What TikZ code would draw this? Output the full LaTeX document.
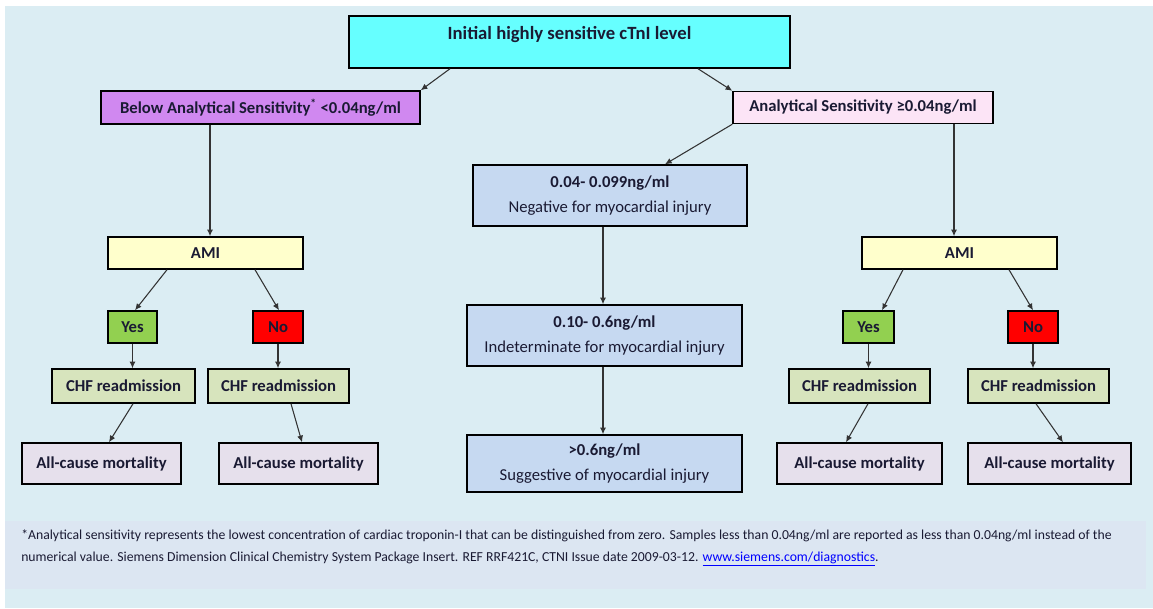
\documentclass[tikz,border=0pt]{standalone}
\usepackage{fontspec}
\setmainfont{Carlito}
\usetikzlibrary{arrows.meta,calc}
\definecolor{bgblue}{HTML}{DBEDF3}
\definecolor{footbg}{HTML}{DCE6F2}
\definecolor{cyanbox}{HTML}{66FFFF}
\definecolor{purplebox}{HTML}{D088F0}
\definecolor{pinkbox}{HTML}{FCE4F6}
\definecolor{centerbox}{HTML}{C6D9F1}
\definecolor{amibox}{HTML}{FFFFCC}
\definecolor{yesbox}{HTML}{92D050}
\definecolor{nobox}{HTML}{FF0000}
\definecolor{chfbox}{HTML}{D7E4BD}
\definecolor{allbox}{HTML}{E6E0EC}
\definecolor{linkblue}{HTML}{0000FF}
\definecolor{txt}{HTML}{1A1A33}
\tikzset{
  wh/.style 2 args={minimum width=#1*0.75pt, minimum height=#2*0.75pt},
  box/.style={draw=black, line width=1.1pt, inner sep=0pt, text=txt,
    font=\bfseries\fontsize{12.5}{15}\selectfont, align=center},
  conn/.style={draw=black!80, line width=0.8pt, -{Latex[length=5pt,width=4.5pt]}},
  foot/.style={anchor=base west, inner sep=0pt, text=txt, font=\fontsize{10.3}{12}\selectfont}
}
\begin{document}
\begin{tikzpicture}[x=0.75pt,y=-0.75pt]
\useasboundingbox (0,0) rectangle (1153,608);
\fill[white] (0,0) rectangle (1153,608);
\fill[bgblue] (5,6) rectangle (1153,608);
\fill[footbg] (5,521) rectangle (1146,589);

% top
\node[box, fill=cyanbox, wh={441}{52}, font=\bfseries\fontsize{14}{16}\selectfont] (init) at (569.5,42) {\raisebox{2pt}[0pt][0pt]{Initial highly sensitive cTnI level}};
\node[box, fill=purplebox, wh={319}{33}] (below) at (260.5,107.5) {Below Analytical Sensitivity\textsuperscript{*} <0.04ng/ml};
\node[box, fill=pinkbox, wh={260}{32}] (anal) at (863,107.5) {Analytical Sensitivity ≥0.04ng/ml};

% center column
\node[box, fill=centerbox, wh={274}{61}] (c1) at (610,195.5) {0.04- 0.099ng/ml\\[4pt]{\mdseries Negative for myocardial injury}};
\node[box, fill=centerbox, wh={275}{61}] (c2) at (604.5,335.5) {0.10- 0.6ng/ml\\[4pt]{\mdseries Indeterminate for myocardial injury}};
\node[box, fill=centerbox, wh={275}{57}] (c3) at (604.5,463.5) {>0.6ng/ml\\[4pt]{\mdseries Suggestive of myocardial injury}};

% left branch
\node[box, fill=amibox, wh={195}{32}] (amiL) at (205.5,253) {AMI};
\node[box, fill=yesbox, wh={49}{32}] (yesL) at (132.5,327) {Yes};
\node[box, fill=nobox, wh={50}{32}] (noL) at (278,327) {No};
\node[box, fill=chfbox, wh={143}{34}] (chfL1) at (123.5,386) {CHF readmission};
\node[box, fill=chfbox, wh={141}{34}] (chfL2) at (278.5,386) {CHF readmission};
\node[box, fill=allbox, wh={159}{41}] (allL1) at (101.5,463.5) {All-cause mortality};
\node[box, fill=allbox, wh={159}{41}] (allL2) at (298.5,463.5) {All-cause mortality};

% right branch
\node[box, fill=amibox, wh={195}{32}] (amiR) at (959.5,253) {AMI};
\node[box, fill=yesbox, wh={51}{32}] (yesR) at (868.5,327) {Yes};
\node[box, fill=nobox, wh={50}{32}] (noR) at (1033,327) {No};
\node[box, fill=chfbox, wh={141}{34}] (chfR1) at (859.5,386) {CHF readmission};
\node[box, fill=chfbox, wh={141}{34}] (chfR2) at (1038.5,386) {CHF readmission};
\node[box, fill=allbox, wh={165}{41}] (allR1) at (859.5,463.5) {All-cause mortality};
\node[box, fill=allbox, wh={163}{41}] (allR2) at (1049.5,463.5) {All-cause mortality};

% connectors
\draw[conn] ($(init.south)+(-119.5,0)$) -- (below.north east);
\draw[conn] ($(init.south)+(128.5,0)$) -- (anal.north west);
\draw[conn] ($(below.south)+(-50.5,0)$) -- ($(amiL.north)+(4.5,0)$);
\draw[conn] ($(anal.south)+(91,0)$) -- ($(amiR.north)+(-5.5,0)$);
\draw[conn] (anal.south west) -- ($(c1.north)+(55,0)$);
\draw[conn] ($(c1.south)+(-7,0)$) -- ($(c2.north)+(-1.5,0)$);
\draw[conn] ($(c2.south)+(-1.5,0)$) -- ($(c3.north)+(-1.5,0)$);

\draw[conn] ($(amiL.south)+(-38.5,0)$) -- ($(yesL.north)+(2.5,0)$);
\draw[conn] ($(amiL.south)+(49.5,0)$) -- ($(noL.north)+(1,0)$);
\draw[conn] (yesL.south) -- (yesL.south |- chfL1.north);
\draw[conn] (noL.south) -- (noL.south |- chfL2.north);
\draw[conn] ($(chfL1.south)+(9.5,0)$) -- ($(allL1.north)+(7.5,0)$);
\draw[conn] ($(chfL2.south)+(12.5,0)$) -- ($(allL2.north)+(3.5,0)$);

\draw[conn] ($(amiR.south)+(-56.5,0)$) -- ($(yesR.north)+(13.5,0)$);
\draw[conn] ($(amiR.south)+(49.5,0)$) -- (noR.north);
\draw[conn] (yesR.south) -- (yesR.south |- chfR1.north);
\draw[conn] (noR.south) -- (noR.south |- chfR2.north);
\draw[conn] ($(chfR1.south)+(8.5,0)$) -- ($(allR1.north)+(-13.5,0)$);
\draw[conn] ($(chfR2.south)+(-2.5,0)$) -- ($(allR2.north)+(13.5,0)$);

% footnote
\node[foot] (f1) at (21,539) {*Analytical sensitivity represents the lowest concentration of cardiac troponin-I that can be distinguished from zero. Samples less than 0.04ng/ml are reported as less than 0.04ng/ml instead of the};
\node[foot] (f2) at (21,561) {numerical value. Siemens Dimension Clinical Chemistry System Package Insert. REF RRF421C, CTNI Issue date 2009-03-12. {\color{linkblue}\underline{www.siemens.com/diagnostics}}.};
\end{tikzpicture}
\end{document}
